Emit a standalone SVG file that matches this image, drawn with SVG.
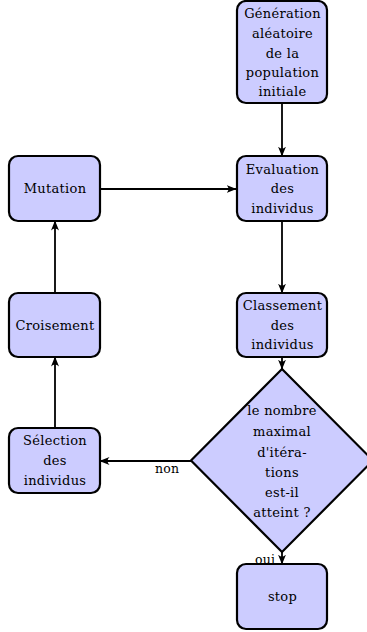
<svg xmlns="http://www.w3.org/2000/svg" width="367" height="632" viewBox="0 0 367 632">
<style>
.box{fill:#ccccff;stroke:#000;stroke-width:2.2}
.t{font-family:'DejaVu Serif',serif;font-size:13px;letter-spacing:0.3px;text-anchor:middle;fill:#000}
.lab{font-family:'DejaVu Serif',serif;font-size:12.5px;letter-spacing:0.2px;fill:#000}
.c{fill:none;stroke:#000;stroke-width:1.8}
</style>
<defs>
<marker id="ah" viewBox="0 0 10 10" refX="9.5" refY="5" markerWidth="10" markerHeight="10" markerUnits="userSpaceOnUse" orient="auto">
<path d="M0,1 Q4,5 0,9 L10,5 Z" fill="#000"/>
</marker>
</defs>
<g id="connectors">
<line class="c" x1="282" y1="103" x2="282" y2="156" marker-end="url(#ah)"/>
<line class="c" x1="100" y1="189" x2="236" y2="189" marker-end="url(#ah)"/>
<line class="c" x1="282" y1="221" x2="282" y2="293" marker-end="url(#ah)"/>
<line class="c" x1="282" y1="357" x2="282" y2="369" marker-end="url(#ah)"/>
<line class="c" x1="191" y1="461" x2="100" y2="461" marker-end="url(#ah)"/>
<line class="c" x1="282" y1="552" x2="282" y2="564" marker-end="url(#ah)"/>
<line class="c" x1="55" y1="428" x2="55" y2="357" marker-end="url(#ah)"/>
<line class="c" x1="55" y1="293" x2="55" y2="221" marker-end="url(#ah)"/>
<text class="lab" x="155" y="473">non</text>
<text class="lab" x="255" y="564">oui</text>
</g>
<g id="generation">
<rect class="box" x="237" y="1" width="90" height="102" rx="9"/>
<text class="t" x="282.5" y="18">Génération</text>
<text class="t" x="282.5" y="38">aléatoire</text>
<text class="t" x="282.5" y="58">de la</text>
<text class="t" x="282.5" y="77">population</text>
<text class="t" x="282.5" y="96">initiale</text>
</g>
<g id="evaluation">
<rect class="box" x="237" y="156" width="90" height="65" rx="9"/>
<text class="t" x="282.5" y="174">Evaluation</text>
<text class="t" x="282.5" y="193">des</text>
<text class="t" x="282.5" y="213">individus</text>
</g>
<g id="mutation">
<rect class="box" x="9" y="156" width="91" height="65" rx="9"/>
<text class="t" x="55" y="193">Mutation</text>
</g>
<g id="classement">
<rect class="box" x="237" y="293" width="90" height="64" rx="9"/>
<text class="t" x="282.5" y="310">Classement</text>
<text class="t" x="282.5" y="330">des</text>
<text class="t" x="282.5" y="349">individus</text>
</g>
<g id="croisement">
<rect class="box" x="9" y="293" width="91" height="64" rx="9"/>
<text class="t" x="55" y="330">Croisement</text>
</g>
<g id="decision">
<polygon class="box" points="282,369 373,460.5 282,552 191,460.5"/>
<text class="t" x="282" y="415">le nombre</text>
<text class="t" x="282" y="436">maximal</text>
<text class="t" x="282" y="457">d'itéra-</text>
<text class="t" x="282" y="477">tions</text>
<text class="t" x="282" y="497">est-il</text>
<text class="t" x="282" y="517">atteint ?</text>
</g>
<g id="selection">
<rect class="box" x="9" y="428" width="91" height="65" rx="9"/>
<text class="t" x="55" y="445">Sélection</text>
<text class="t" x="55" y="465">des</text>
<text class="t" x="55" y="485">individus</text>
</g>
<g id="stop">
<rect class="box" x="237" y="564" width="90" height="65" rx="9"/>
<text class="t" x="282.5" y="601">stop</text>
</g>
</svg>
